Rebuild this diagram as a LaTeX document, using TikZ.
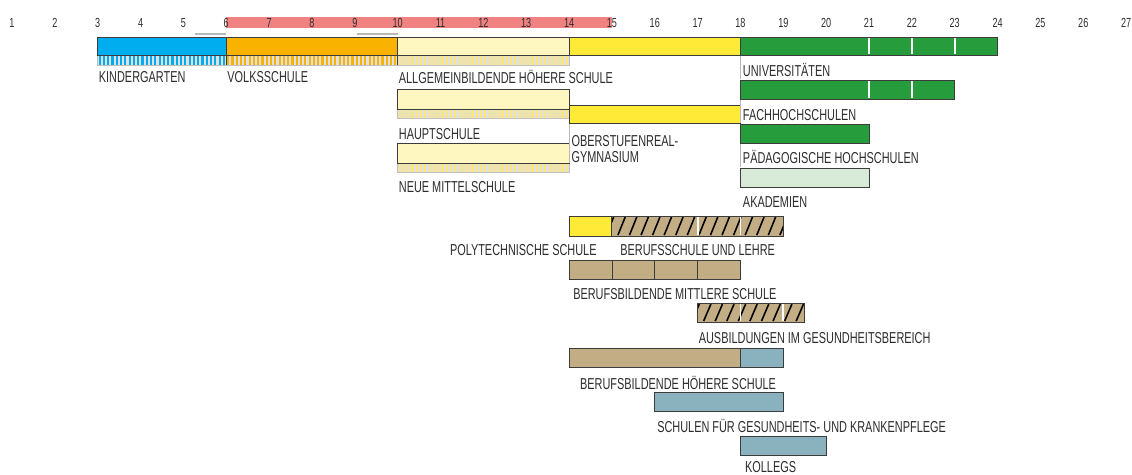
\documentclass[tikz,border=0pt]{standalone}
\usepackage{fontspec}
\setmainfont[FakeStretch=0.69]{Liberation Sans}
\definecolor{kiga}{RGB}{0,174,239}
\definecolor{volks}{RGB}{249,178,0}
\definecolor{pale}{RGB}{255,246,192}
\definecolor{paledot}{RGB}{255,230,120}
\definecolor{ahsyellow}{RGB}{255,234,56}
\definecolor{unigreen}{RGB}{38,156,60}
\definecolor{akagreen}{RGB}{216,234,216}
\definecolor{tan}{RGB}{194,173,133}
\definecolor{slate}{RGB}{138,177,190}
\definecolor{ageband}{RGB}{240,130,130}
\definecolor{rim}{RGB}{60,60,60}
\definecolor{ink}{RGB}{45,45,45}
\definecolor{stripbg}{RGB}{222,224,226}
\begin{document}
\begin{tikzpicture}[x=0.857cm,y=-0.02cm,
	schoolbar/.style={draw=rim,line width=0.5pt},
	lbl/.style={anchor=base west,inner sep=0pt,text=ink,font=\fontsize{9}{10}\selectfont},
	agenum/.style={inner sep=0pt,text=ink,font=\fontsize{7.5}{8}\selectfont},
	divider/.style={white,line width=1pt},
	hatchline/.style={black,line width=0.9pt},
	guide/.style={gray!55,line width=0.6pt}]
	\useasboundingbox (0.72,0) rectangle (27.137,474);
	% age scale
	\fill[ageband] (6,17) rectangle (15,28);
	\foreach \n in {1,...,27}
		\node[agenum] (age\n) at (\n,23) {\n};
	\draw[guide] (5.27,34) -- (6,34) (9.05,34) -- (10,34);
	% first row with the dotted strip
	\fill[stripbg] (3,55) rectangle (14,65);
	\foreach \x in {3,3.1,...,5.91} \fill[kiga] (\x+0.02,55) rectangle (\x+0.07,65);
	\foreach \x in {6,6.1,...,9.91} \fill[volks] (\x+0.02,55) rectangle (\x+0.07,65);
	\foreach \x in {10,10.1,...,13.91} \fill[paledot] (\x+0.02,55) rectangle (\x+0.07,65);
	\draw[gray!50] (3,55) rectangle (14,65);
	\draw[schoolbar,fill=kiga] (3,37) rectangle (6,55);
	\draw[schoolbar,fill=volks] (6,37) rectangle (10,55);
	\draw[schoolbar,fill=pale] (10,37) rectangle (14,55);
	\draw[schoolbar,fill=ahsyellow] (14,37) rectangle (18,55);
	\draw[schoolbar,fill=unigreen] (18,37) rectangle (24,55);
	\draw[rim] (6,37) -- (6,65) (10,37) -- (10,65);
	\draw[divider] (21,38) -- (21,54) (22,38) -- (22,54) (23,38) -- (23,54);
	% hauptschule, neue mittelschule
	\foreach \t in {89,143}{
		\fill[stripbg] (10,\t+20) rectangle (14,\t+29);
		\foreach \x in {10,10.1,...,13.91} \fill[paledot] (\x+0.02,\t+20) rectangle (\x+0.07,\t+29);
		\draw[gray!50] (10,\t+20) rectangle (14,\t+29);
		\draw[schoolbar,fill=pale] (10,\t) rectangle (14,\t+20);
	}
	\draw[schoolbar,fill=ahsyellow] (14,105) rectangle (18,123);
	% hochschulen
	\draw[schoolbar,fill=unigreen] (18,80) rectangle (23,99);
	\draw[divider] (21,81) -- (21,98) (22,81) -- (22,98);
	\draw[schoolbar,fill=unigreen] (18,124) rectangle (21,143);
	\draw[schoolbar,fill=akagreen] (18,168) rectangle (21,187);
	\draw[guide] (18,56) -- (18,79) (18,100) -- (18,123) (18,144) -- (18,167) (14,124) -- (14,163);
	% berufsbildung
	\draw[schoolbar,fill=ahsyellow] (14,216) rectangle (15,236);
	\fill[tan] (15,216) rectangle (19,236);
	\begin{scope}
		\clip (15,216) rectangle (19,236);
		\foreach \x in {14.87,15.14,...,19} \draw[hatchline] (\x,235) -- (\x+0.17,217);
	\end{scope}
	\draw[schoolbar] (15,216) rectangle (19,236);
	\draw[divider] (17,217) -- (17,235) (18,217) -- (18,235);
	\draw[schoolbar,fill=tan] (14,260) rectangle (18,279);
	\draw[rim] (15,260) -- (15,279) (16,260) -- (16,279) (17,260) -- (17,279);
	\fill[tan] (17,303) rectangle (19.5,322);
	\begin{scope}
		\clip (17,303) rectangle (19.5,322);
		\foreach \x in {16.87,17.14,...,19.5} \draw[hatchline] (\x,321) -- (\x+0.17,304);
	\end{scope}
	\draw[schoolbar] (17,303) rectangle (19.5,322);
	\draw[divider] (18,304) -- (18,321) (19,304) -- (19,321);
	\draw[schoolbar,fill=tan] (14,348) rectangle (18,367);
	\draw[schoolbar,fill=slate] (18,348) rectangle (19,367);
	\draw[schoolbar,fill=slate] (16,392) rectangle (19,411);
	\draw[schoolbar,fill=slate] (18,436) rectangle (20,455);
	% labels
	\node[lbl] (kiga) at (3.02,82) {KINDERGARTEN};
	\node[lbl] (vs) at (6.02,82) {VOLKSSCHULE};
	\node[lbl] (ahs) at (10.02,83) {ALLGEMEINBILDENDE HÖHERE SCHULE};
	\node[lbl] (uni) at (18.05,76) {UNIVERSITÄTEN};
	\node[lbl] (fh) at (18.05,120) {FACHHOCHSCHULEN};
	\node[lbl] (ph) at (18.05,163) {PÄDAGOGISCHE HOCHSCHULEN};
	\node[lbl] (akad) at (18.05,207) {AKADEMIEN};
	\node[lbl] (hs) at (10.02,139) {HAUPTSCHULE};
	\node[lbl] (nms) at (10.02,192) {NEUE MITTELSCHULE};
	\node[lbl] (org) at (14.05,146) {OBERSTUFENREAL-};
	\node[lbl] (orggym) at (14.05,162) {GYMNASIUM};
	\node[lbl,anchor=base east] (pts) at (14.65,255) {POLYTECHNISCHE SCHULE};
	\node[lbl] (bs) at (15.19,255) {BERUFSSCHULE UND LEHRE};
	\node[lbl] (bms) at (14.09,299) {BERUFSBILDENDE MITTLERE SCHULE};
	\node[lbl] (gesb) at (17.02,343) {AUSBILDUNGEN IM GESUNDHEITSBEREICH};
	\node[lbl] (bhs) at (14.25,389) {BERUFSBILDENDE HÖHERE SCHULE};
	\node[lbl] (guk) at (16.05,432) {SCHULEN FÜR GESUNDHEITS- UND KRANKENPFLEGE};
	\node[lbl] (kolleg) at (18.1,472) {KOLLEGS};
\end{tikzpicture}
\end{document}
